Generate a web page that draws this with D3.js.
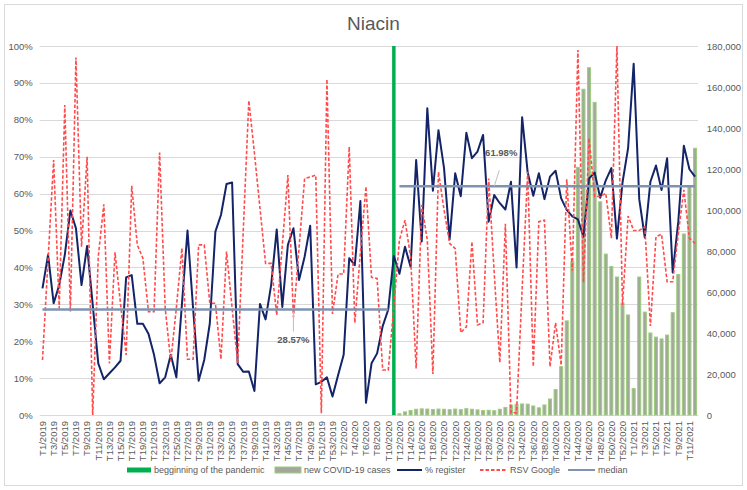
<!DOCTYPE html>
<html>
<head>
<meta charset="utf-8">
<script src="https://cdn.jsdelivr.net/npm/d3@7"></script>
<style>
  body { margin: 0; background: #fff; }
  svg { display: block; font-family: "Liberation Sans", Arial, sans-serif; }
</style>
</head>
<body>
<div id="chart"></div>
<script>
// week categories: T1/2019..T53/2019, T1/2020..T53/2020, T1/2021..T12/2021
const yearWeeks = [[2019, 53], [2020, 53], [2021, 12]];
const weeks = [];
yearWeeks.forEach(([yr, n]) => { for (let w = 1; w <= n; w++) weeks.push(`T${w}/${yr}`); });

// % register (share, 0..1)
const register = [
  0.343, 0.434, 0.303, 0.352, 0.434, 0.554, 0.506, 0.352, 0.458, 0.300,
  0.140, 0.097, 0.113, 0.129, 0.147, 0.373, 0.379, 0.247, 0.247, 0.220,
  0.163, 0.086, 0.102, 0.163, 0.102, 0.300, 0.500, 0.290, 0.093, 0.149,
  0.248, 0.497, 0.542, 0.626, 0.630, 0.138, 0.117, 0.118, 0.065, 0.301,
  0.259, 0.352, 0.503, 0.293, 0.461, 0.506, 0.366, 0.429, 0.513, 0.083,
  0.090, 0.102, 0.050, 0.108, 0.163, 0.425, 0.406, 0.580, 0.033, 0.140,
  0.167, 0.241, 0.286, 0.431, 0.383, 0.456, 0.402, 0.691, 0.470, 0.831,
  0.608, 0.772, 0.669, 0.476, 0.655, 0.593, 0.765, 0.696, 0.714, 0.759,
  0.524, 0.596, 0.574, 0.557, 0.632, 0.400, 0.807, 0.657, 0.594, 0.655,
  0.585, 0.646, 0.662, 0.587, 0.556, 0.538, 0.530, 0.483, 0.641, 0.657,
  0.589, 0.636, 0.669, 0.478, 0.630, 0.723, 0.952, 0.585, 0.481, 0.632,
  0.676, 0.610, 0.696, 0.386, 0.524, 0.730, 0.666, 0.646
];

// RSV Google (0..1)
const rsv = [
  0.149, 0.420, 0.691, 0.289, 0.840, 0.280, 0.969, 0.456, 0.700, 0.000,
  0.429, 0.571, 0.140, 0.441, 0.300, 0.163, 0.621, 0.461, 0.425, 0.280,
  0.280, 0.711, 0.290, 0.145, 0.290, 0.452, 0.151, 0.151, 0.461, 0.461,
  0.303, 0.303, 0.151, 0.443, 0.290, 0.140, 0.500, 0.852, 0.710, 0.560,
  0.411, 0.411, 0.271, 0.460, 0.650, 0.265, 0.453, 0.641, 0.645, 0.650,
  0.005, 0.910, 0.274, 0.382, 0.382, 0.727, 0.250, 0.440, 0.619, 0.373,
  0.370, 0.122, 0.122, 0.294, 0.474, 0.528, 0.429, 0.126, 0.569, 0.474,
  0.111, 0.659, 0.556, 0.465, 0.451, 0.223, 0.239, 0.470, 0.244, 0.250,
  0.641, 0.384, 0.142, 0.518, 0.006, 0.006, 0.340, 0.659, 0.131, 0.524,
  0.528, 0.131, 0.250, 0.135, 0.639, 0.391, 0.989, 0.359, 0.750, 0.592,
  0.592, 0.601, 0.479, 1.000, 0.298, 0.539, 0.500, 0.500, 0.510, 0.241,
  0.483, 0.490, 0.361, 0.361, 0.492, 0.610, 0.479, 0.465
];

// new COVID-19 cases, from T11/2020 on
const covidStart = 'T11/2020';
const covid = [
  200, 600, 1500, 2200, 2800, 3000, 2900, 2700, 2900, 2800,
  2600, 2900, 2600, 3100, 2800, 2500, 2200, 2300, 2100, 2800,
  3700, 4800, 5200, 5400, 5300, 4400, 3500, 4900, 7800, 12400,
  23600, 45900, 74800, 120800, 158900, 169400, 152500, 104000, 78500, 72400,
  67300, 54500, 48800, 12900, 67300, 50200, 40000, 38000, 37100, 39000,
  49900, 68500, 88300, 111700, 130100
];

// medians before / after start of pandemic
const medianBefore = 0.2857;
const medianAfter = 0.6198;
const pandemicWeek = 'T11/2020';

const W = 747, H = 490;
const plotL = 39.7, plotR = 697.8, plotT = 46, plotB = 415;

const svg = d3.select('#chart').append('svg')
  .attr('width', W).attr('height', H);

// outer frame
svg.append('rect')
  .attr('x', 4.5).attr('y', 4.5).attr('width', W - 9).attr('height', H - 9)
  .attr('fill', '#fff').attr('stroke', '#d9d9d9').attr('stroke-width', 1);

const x = d3.scaleBand().domain(weeks).range([plotL, plotR]);
const cx = d => x(d) + x.bandwidth() / 2;
const y = d3.scaleLinear().domain([0, 1]).range([plotB, plotT]);
const y2 = d3.scaleLinear().domain([0, 180000]).range([plotB, plotT]);

// title
svg.append('text')
  .attr('x', W / 2).attr('y', 30)
  .attr('text-anchor', 'middle')
  .attr('font-size', '19px')
  .attr('fill', '#595959')
  .text('Niacin');

// gridlines
svg.append('g').selectAll('line')
  .data(y.ticks(10)).enter().append('line')
    .attr('x1', plotL).attr('x2', plotR)
    .attr('y1', d => Math.round(y(d)) + 0.5).attr('y2', d => Math.round(y(d)) + 0.5)
    .attr('stroke', '#d9d9d9').attr('stroke-width', 1);

// left axis
const gl = svg.append('g').attr('transform', `translate(${plotL},0)`)
  .call(d3.axisLeft(y).ticks(10).tickFormat(d3.format('.0%')).tickSize(0).tickPadding(7));
gl.select('.domain').remove();
gl.selectAll('text').attr('font-size', '9.5px').attr('fill', '#595959');
gl.attr('font-family', null);

// right axis
const gr = svg.append('g').attr('transform', `translate(${plotR},0)`)
  .call(d3.axisRight(y2).tickValues(d3.range(0, 180001, 20000)).tickFormat(d3.format(',')).tickSize(0).tickPadding(9));
gr.select('.domain').remove();
gr.selectAll('text').attr('font-size', '9.5px').attr('fill', '#595959');
gr.attr('font-family', null);

// bottom axis
const gb = svg.append('g').attr('transform', `translate(0,${plotB})`)
  .call(d3.axisBottom(x).tickValues(weeks.filter((d, i) => i % 2 === 0)).tickSize(0));
gb.attr('font-family', null);
gb.select('.domain').attr('stroke', '#d9d9d9');
gb.selectAll('text')
  .attr('font-size', '9.5px').attr('fill', '#595959')
  .attr('text-anchor', 'end')
  .attr('transform', 'rotate(-90)')
  .attr('x', -6).attr('y', 0).attr('dy', '0.35em');

// COVID bars
const i0 = weeks.indexOf(covidStart);
const barData = covid.map((v, k) => ({ week: weeks[i0 + k], v }));
const barW = 3;
svg.append('g').selectAll('rect')
  .data(barData).enter().append('rect')
    .attr('x', d => cx(d.week) - barW / 2)
    .attr('y', d => y2(d.v))
    .attr('width', barW)
    .attr('height', d => plotB - y2(d.v))
    .attr('fill', '#a3a79d')
    .attr('stroke', '#9cce7c')
    .attr('stroke-width', 1);

// beginning of the pandemic
svg.append('line')
  .attr('x1', cx(pandemicWeek)).attr('x2', cx(pandemicWeek))
  .attr('y1', plotT).attr('y2', plotB)
  .attr('stroke', '#00b050').attr('stroke-width', 3.5);

const line = d3.line().x(d => cx(d[0])).y(d => y(d[1]));

// % register
svg.append('path')
  .datum(weeks.map((w, i) => [w, register[i]]))
  .attr('d', line)
  .attr('fill', 'none').attr('stroke', '#142468').attr('stroke-width', 2)
  .attr('stroke-linejoin', 'round');

// RSV Google
svg.append('path')
  .datum(weeks.map((w, i) => [w, rsv[i]]))
  .attr('d', line)
  .attr('fill', 'none').attr('stroke', '#ff4b4b').attr('stroke-width', 1.6)
  .attr('stroke-dasharray', '3.5,2');

// medians
const pIdx = weeks.indexOf(pandemicWeek);
const medBefore = weeks.slice(0, pIdx).map(w => [w, medianBefore]);
const medAfter = weeks.slice(pIdx + 1).map(w => [w, medianAfter]);
[medBefore, medAfter].forEach(seg => {
  svg.append('path')
    .datum(seg)
    .attr('d', line)
    .attr('fill', 'none').attr('stroke', '#7f93b0').attr('stroke-width', 2.5);
});

// median labels with leader lines
const labA = medBefore[Math.round(medBefore.length * 0.71)][0];
svg.append('line')
  .attr('x1', cx(labA)).attr('x2', cx(labA))
  .attr('y1', y(medianBefore) + 2).attr('y2', y(medianBefore) + 22)
  .attr('stroke', '#bfbfbf').attr('stroke-width', 1);
svg.append('text')
  .attr('x', cx(labA)).attr('y', y(medianBefore) + 33)
  .attr('text-anchor', 'middle').attr('font-size', '9.5px').attr('font-weight', 'bold')
  .attr('fill', '#595959')
  .text(d3.format('.2%')(medianBefore));

const labB = medAfter[Math.round(medAfter.length * 0.31)][0];
svg.append('line')
  .attr('x1', cx(labB)).attr('x2', cx(labB) + 5)
  .attr('y1', y(medianAfter)).attr('y2', y(medianAfter) - 16)
  .attr('stroke', '#bfbfbf').attr('stroke-width', 1);
svg.append('text')
  .attr('x', cx(labB) + 7).attr('y', y(medianAfter) - 30)
  .attr('text-anchor', 'middle').attr('font-size', '9.5px').attr('font-weight', 'bold')
  .attr('fill', '#595959')
  .text(d3.format('.2%')(medianAfter));

// legend
const ly = 470;
const legend = [
  { label: 'begginning of the pandemic', x: 127, w: 24, type: 'thick', color: '#00b050' },
  { label: 'new COVID-19 cases', x: 275, w: 26, type: 'bar' },
  { label: '% register', x: 397, w: 25, type: 'line', color: '#142468' },
  { label: 'RSV Google', x: 480, w: 27, type: 'dash', color: '#ff4b4b' },
  { label: 'median', x: 568, w: 27, type: 'line', color: '#7f93b0' }
];
const lg = svg.append('g');
legend.forEach(d => {
  if (d.type === 'bar') {
    lg.append('rect').attr('x', d.x).attr('y', ly - 3).attr('width', d.w).attr('height', 6)
      .attr('fill', '#a3a79d').attr('stroke', '#9cce7c').attr('stroke-width', 1);
  } else {
    lg.append('line').attr('x1', d.x).attr('x2', d.x + d.w).attr('y1', ly).attr('y2', ly)
      .attr('stroke', d.color)
      .attr('stroke-width', d.type === 'thick' ? 5 : 2)
      .attr('stroke-dasharray', d.type === 'dash' ? '3.5,2' : null);
  }
  lg.append('text').attr('x', d.x + d.w + 3).attr('y', ly).attr('dy', '0.35em')
    .attr('font-size', '9px').attr('fill', '#595959').text(d.label);
});
</script>
</body>
</html>
